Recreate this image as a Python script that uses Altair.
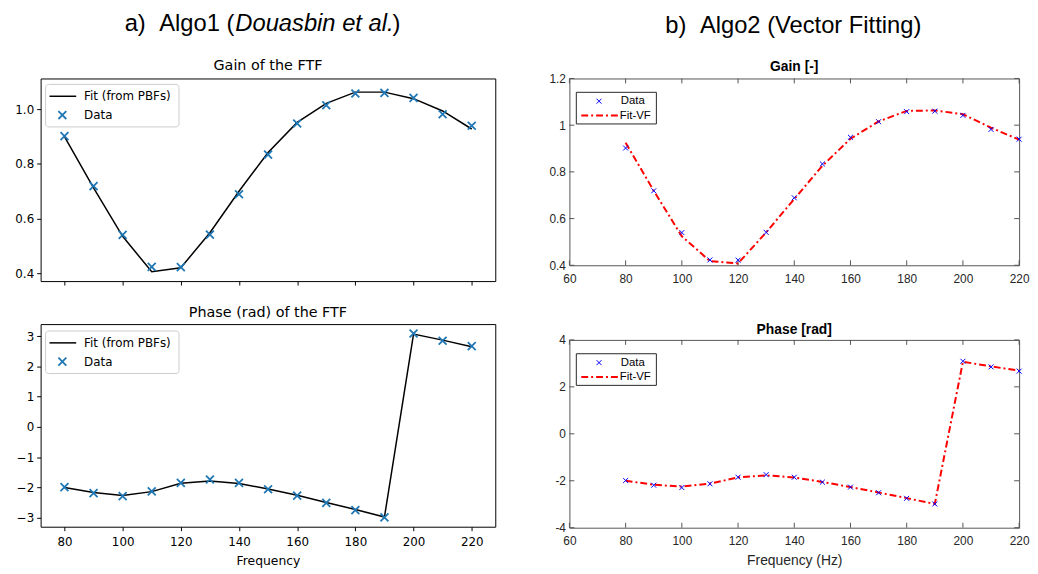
import altair as alt
import pandas as pd

# ---------------- data ----------------
freq = [80, 90, 100, 110, 120, 130, 140, 150, 160, 170, 180, 190, 200, 210, 220]
gain_data = [0.902, 0.719, 0.540, 0.423, 0.422, 0.541, 0.689, 0.834, 0.948, 1.015, 1.058, 1.060, 1.042, 0.982, 0.940]
gain_fit_pbf = [0.900, 0.712, 0.535, 0.405, 0.420, 0.548, 0.700, 0.842, 0.952, 1.022, 1.063, 1.063, 1.039, 0.994, 0.928]
phase_data = [-1.99, -2.19, -2.29, -2.13, -1.85, -1.74, -1.85, -2.06, -2.27, -2.51, -2.75, -2.99, 3.09, 2.85, 2.67]
phase_fit_pbf = [-2.00, -2.17, -2.27, -2.14, -1.86, -1.79, -1.87, -2.05, -2.26, -2.50, -2.73, -2.98, 3.07, 2.87, 2.65]
gain_fit_vf = [0.925, 0.719, 0.524, 0.418, 0.408, 0.541, 0.684, 0.826, 0.942, 1.016, 1.061, 1.063, 1.047, 0.989, 0.938]
phase_fit_vf = [-2.00, -2.17, -2.25, -2.12, -1.86, -1.77, -1.86, -2.05, -2.27, -2.50, -2.74, -2.99, 3.07, 2.87, 2.69]

x_ticks_left = [80, 100, 120, 140, 160, 180, 200, 220]
gain_ticks_left = [0.4, 0.6, 0.8, 1.0]
phase_ticks_left = [-3, -2, -1, 0, 1, 2, 3]
x_ticks_right = [60, 80, 100, 120, 140, 160, 180, 200, 220]
gain_ticks_right = [0.4, 0.6, 0.8, 1.0, 1.2]
phase_ticks_right = [-4, -2, 0, 2, 4]

# ---------------- styles ----------------
MPL = "DejaVu Sans"
MAT = "Liberation Sans"
XPATH = "M-1,-1L1,1M-1,1L1,-1"
MPL_BLUE = "#1f77b4"
FRAME_R = "#555555"
TXT_R = "#262626"

WL, HL = 460, 205
WR = 455

one = pd.DataFrame({"k": [0]})


def txt(s, x, y, font, size, align="left", weight="normal", style="normal", color="black"):
    return alt.Chart(one).mark_text(
        font=font, fontSize=size, align=align, baseline="middle",
        fontWeight=weight, fontStyle=style, color=color
    ).encode(x=alt.value(x), y=alt.value(y), text=alt.value(s))


def mpl_panel(title, title_y, fit, data, ydomain, yticks, ylabel_expr, bottom, legend_y0, supertitle):
    xs = alt.Scale(domain=[71.8, 228.1], nice=False, zero=False)
    ys = alt.Scale(domain=ydomain, nice=False, zero=False)
    xaxis = alt.Axis(
        values=x_ticks_left, format="d", labels=bottom, labelFlush=False,
        title="Frequency" if bottom else None,
        grid=False, domain=False, ticks=True, tickSize=4, tickColor="black", tickWidth=1,
        labelFont=MPL, labelFontSize=12, labelColor="black", labelPadding=6.5,
        titleFont=MPL, titleFontSize=12.5, titleFontWeight="normal", titleColor="black",
        titlePadding=6.5,
    )
    yaxis = alt.Axis(
        values=yticks, labelExpr=ylabel_expr, title=None, labelFlush=False,
        grid=False, domain=False, ticks=True, tickSize=4, tickColor="black", tickWidth=1,
        labelFont=MPL, labelFontSize=12, labelColor="black", labelPadding=3,
        minExtent=32, maxExtent=32,
    )
    X = alt.X("x:Q", scale=xs, axis=xaxis)
    Y = alt.Y("y:Q", scale=ys, axis=yaxis)
    fit_df = pd.DataFrame({"x": freq, "y": fit})
    data_df = pd.DataFrame({"x": freq, "y": data})
    y0 = legend_y0
    layers = [
        alt.Chart(fit_df).mark_line(color="black", strokeWidth=1.5).encode(x=X, y=Y),
        alt.Chart(data_df).mark_point(shape=XPATH, size=64, filled=False, stroke=MPL_BLUE,
                                      strokeWidth=1.8, opacity=1).encode(x=X, y=Y),
        # legend
        alt.Chart(one).mark_rect(fill="white", fillOpacity=0.8, stroke="#cccccc", strokeWidth=1,
                                 cornerRadius=3).encode(
            x=alt.value(5), x2=alt.value(140), y=alt.value(y0), y2=alt.value(y0 + 43)),
        alt.Chart(one).mark_rule(color="black", strokeWidth=1.5).encode(
            x=alt.value(9), x2=alt.value(36), y=alt.value(y0 + 12)),
        alt.Chart(one).mark_point(shape=XPATH, size=64, filled=False, stroke=MPL_BLUE,
                                  strokeWidth=1.8, opacity=1).encode(
            x=alt.value(22), y=alt.value(y0 + 31)),
        txt("Fit (from PBFs)", 44, y0 + 12, MPL, 12),
        txt("Data", 44, y0 + 31, MPL, 12),
        # panel title
        txt(title, WL / 2, title_y, MPL, 14.5, align="center"),
    ]
    if supertitle:
        layers += [
            txt("a)", 85, -55, MAT, 24),
            txt("Algo1 (", 120, -55, MAT, 24),
            txt("Douasbin et al.", 197, -55, MAT, 24, style="italic"),
            txt(")", 356, -55, MAT, 24),
        ]
    return alt.layer(*layers).properties(
        width=WL, height=HL, view=alt.ViewBackground(stroke="black", strokeWidth=1)
    )


def mat_panel(title, title_y, fit, data, ydomain, yticks, ylabel_expr, bottom, height, supertitle):
    xs = alt.Scale(domain=[60, 220], nice=False, zero=False)
    ys = alt.Scale(domain=ydomain, nice=False, zero=False)
    xaxis = alt.Axis(
        values=x_ticks_right, format="d", labelFlush=False,
        title="Frequency (Hz)" if bottom else None,
        grid=False, domain=False, ticks=False,
        labelFont=MAT, labelFontSize=12, labelColor=TXT_R, labelPadding=8,
        titleFont=MAT, titleFontSize=14, titleFontWeight="normal", titleColor=TXT_R,
        titlePadding=7,
    )
    yaxis = alt.Axis(
        values=yticks, labelExpr=ylabel_expr, title=None, labelFlush=False,
        grid=False, domain=False, ticks=False,
        labelFont=MAT, labelFontSize=12, labelColor=TXT_R, labelPadding=4,
        minExtent=30, maxExtent=30,
    )
    X = alt.X("x:Q", scale=xs, axis=xaxis)
    Y = alt.Y("y:Q", scale=ys, axis=yaxis)
    fit_df = pd.DataFrame({"x": freq, "y": fit})
    data_df = pd.DataFrame({"x": freq, "y": data})
    xt = pd.DataFrame({"x": x_ticks_right})
    yt = pd.DataFrame({"y": yticks})
    H = height
    layers = [
        # inner ticks (MATLAB box style)
        alt.Chart(xt).mark_rule(color=FRAME_R, strokeWidth=1).encode(x=X, y=alt.value(H), y2=alt.value(H - 5)),
        alt.Chart(xt).mark_rule(color=FRAME_R, strokeWidth=1).encode(x=X, y=alt.value(0), y2=alt.value(5)),
        alt.Chart(yt).mark_rule(color=FRAME_R, strokeWidth=1).encode(y=Y, x=alt.value(0), x2=alt.value(5)),
        alt.Chart(yt).mark_rule(color=FRAME_R, strokeWidth=1).encode(y=Y, x=alt.value(WR - 5), x2=alt.value(WR)),
        alt.Chart(fit_df).mark_line(color="#ff0000", strokeWidth=2, strokeDash=[7, 3, 2, 3]).encode(x=X, y=Y),
        alt.Chart(data_df).mark_point(shape=XPATH, size=25, filled=False, stroke="#0000ff",
                                      strokeWidth=1, opacity=1).encode(x=X, y=Y),
        # legend
        alt.Chart(one).mark_rect(fill="white", stroke=TXT_R, strokeWidth=1).encode(
            x=alt.value(7), x2=alt.value(88), y=alt.value(14), y2=alt.value(46)),
        alt.Chart(one).mark_point(shape=XPATH, size=25, filled=False, stroke="#0000ff",
                                  strokeWidth=1, opacity=1).encode(x=alt.value(30), y=alt.value(23)),
        alt.Chart(one).mark_rule(color="#ff0000", strokeWidth=2, strokeDash=[7, 3, 2, 3]).encode(
            x=alt.value(12), x2=alt.value(50), y=alt.value(37.5)),
        txt("Data", 52, 23, MAT, 11.5, color="black"),
        txt("Fit-VF", 51, 37.5, MAT, 11.5, color="black"),
        # panel title
        txt(title, WR / 2, title_y, MAT, 14, align="center", weight="bold", color="black"),
    ]
    if supertitle:
        layers += [
            txt("b)", 97, -53, MAT, 24),
            txt("Algo2 (Vector Fitting)", 132, -53, MAT, 24),
        ]
    return alt.layer(*layers).properties(
        width=WR, height=H, view=alt.ViewBackground(stroke=FRAME_R, strokeWidth=1)
    )


neg_unicode = "datum.value < 0 ? '\u2212' + format(-datum.value, 'd') : format(datum.value, 'd')"
neg_hyphen = "datum.value < 0 ? '-' + format(-datum.value, 'd') : format(datum.value, 'd')"

A = mpl_panel("Gain of the FTF", -13, gain_fit_pbf, gain_data, [0.371, 1.113], gain_ticks_left,
              "format(datum.value, '.1f')", False, 6, True)
B = mpl_panel("Phase (rad) of the FTF", -11, phase_fit_pbf, phase_data, [-3.30, 3.40], phase_ticks_left,
              neg_unicode, True, 7, False)
C = mat_panel("Gain [-]", -12, gain_fit_vf, gain_data, [0.4, 1.2], gain_ticks_right,
              "format(datum.value, '~g')", False, 189, True)
D = mat_panel("Phase [rad]", -10, phase_fit_vf, phase_data, [-4, 4], phase_ticks_right,
              neg_hyphen, True, 190, False)

left = alt.vconcat(A, B, spacing=18.5)
right = alt.vconcat(C, D, spacing=37.5)
chart = alt.hconcat(left, right, spacing=43).properties(
    padding={"left": 0, "top": 0, "right": 0, "bottom": 0},
    background="white",
)

chart.save("out.html", embed_options={"renderer": "svg", "actions": False})
